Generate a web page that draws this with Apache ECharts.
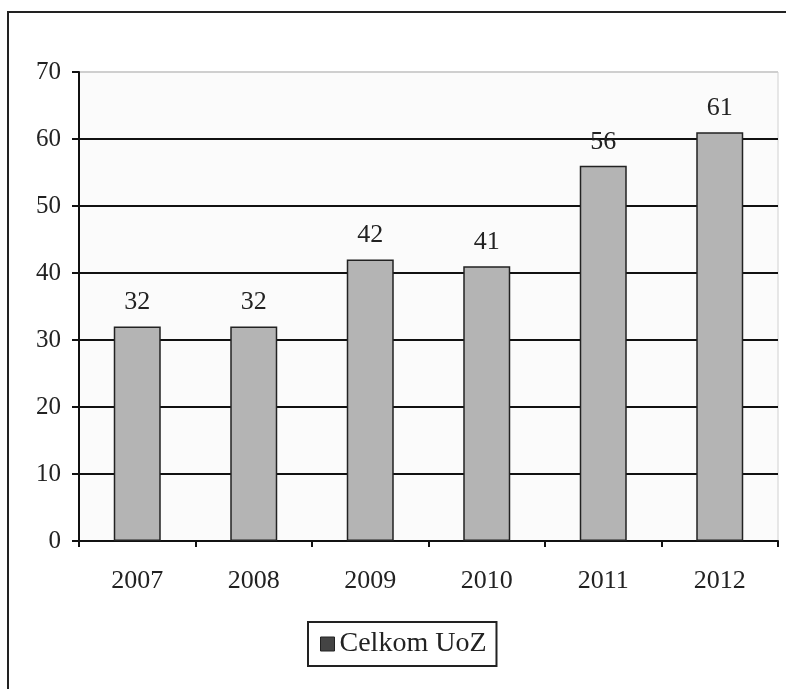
<!DOCTYPE html>
<html>
<head>
<meta charset="utf-8">
<script src="https://cdn.jsdelivr.net/npm/echarts@6/dist/echarts.min.js"></script>
<style>html,body{margin:0;padding:0;background:#fff;}#c{width:786px;height:689px;}</style>
</head>
<body>
<div id="c"></div>
<script>
const categories = ['2007', '2008', '2009', '2010', '2011', '2012'];
const values = [32, 32, 42, 41, 56, 61];
const seriesName = 'Celkom UoZ';
const yMin = 0, yMax = 70, yStep = 10;

const FONT = '"Liberation Serif", "Times New Roman", serif';
const chart = echarts.init(document.getElementById('c'), null, {renderer: 'canvas'});
chart.setOption({
  backgroundColor: '#fff',
  animation: false,
  graphic: [{
    type: 'rect', silent: true,
    shape: {x: 8, y: 12, width: 900, height: 800},
    style: {fill: 'none', stroke: '#222', lineWidth: 2}
  }],
  grid: {left: 79, right: 8, top: 72, bottom: 148, show: true, borderColor: '#d0d0d0', borderWidth: 1, backgroundColor: '#fbfbfb'},
  legend: {
    show: true,
    left: 308, top: 622,
    padding: [8, 10, 8, 12],
    borderColor: '#222', borderWidth: 2,
    itemWidth: 14, itemHeight: 14, itemGap: 8,
    icon: 'rect',
    itemStyle: {color: '#444', borderColor: '#222', borderWidth: 1},
    textStyle: {fontFamily: FONT, fontSize: 28, color: '#222'},
    data: [seriesName]
  },
  xAxis: {
    type: 'category', data: categories,
    axisLine: {lineStyle: {color: '#111', width: 2}},
    axisTick: {show: true, length: 6, lineStyle: {color: '#111', width: 2}},
    axisLabel: {fontFamily: FONT, fontSize: 26, color: '#222', margin: 27}
  },
  yAxis: {
    type: 'value', min: yMin, max: yMax, interval: yStep,
    axisLine: {show: true, lineStyle: {color: '#111', width: 2}},
    axisTick: {show: true, length: 7, lineStyle: {color: '#111', width: 2}},
    axisLabel: {fontFamily: FONT, fontSize: 25, color: '#222', margin: 18},
    splitLine: {show: true, lineStyle: {color: ['#111','#111','#111','#111','#111','#111','#111','#cfcfcf'], width: 2}}
  },
  series: [{
    name: seriesName, type: 'bar', data: values, barWidth: 47,
    itemStyle: {color: '#b4b4b4', borderColor: '#222', borderWidth: 1.5},
    label: {show: true, position: 'top', distance: 11, fontFamily: FONT, fontSize: 26, color: '#222'}
  }]
});
</script>
</body>
</html>
